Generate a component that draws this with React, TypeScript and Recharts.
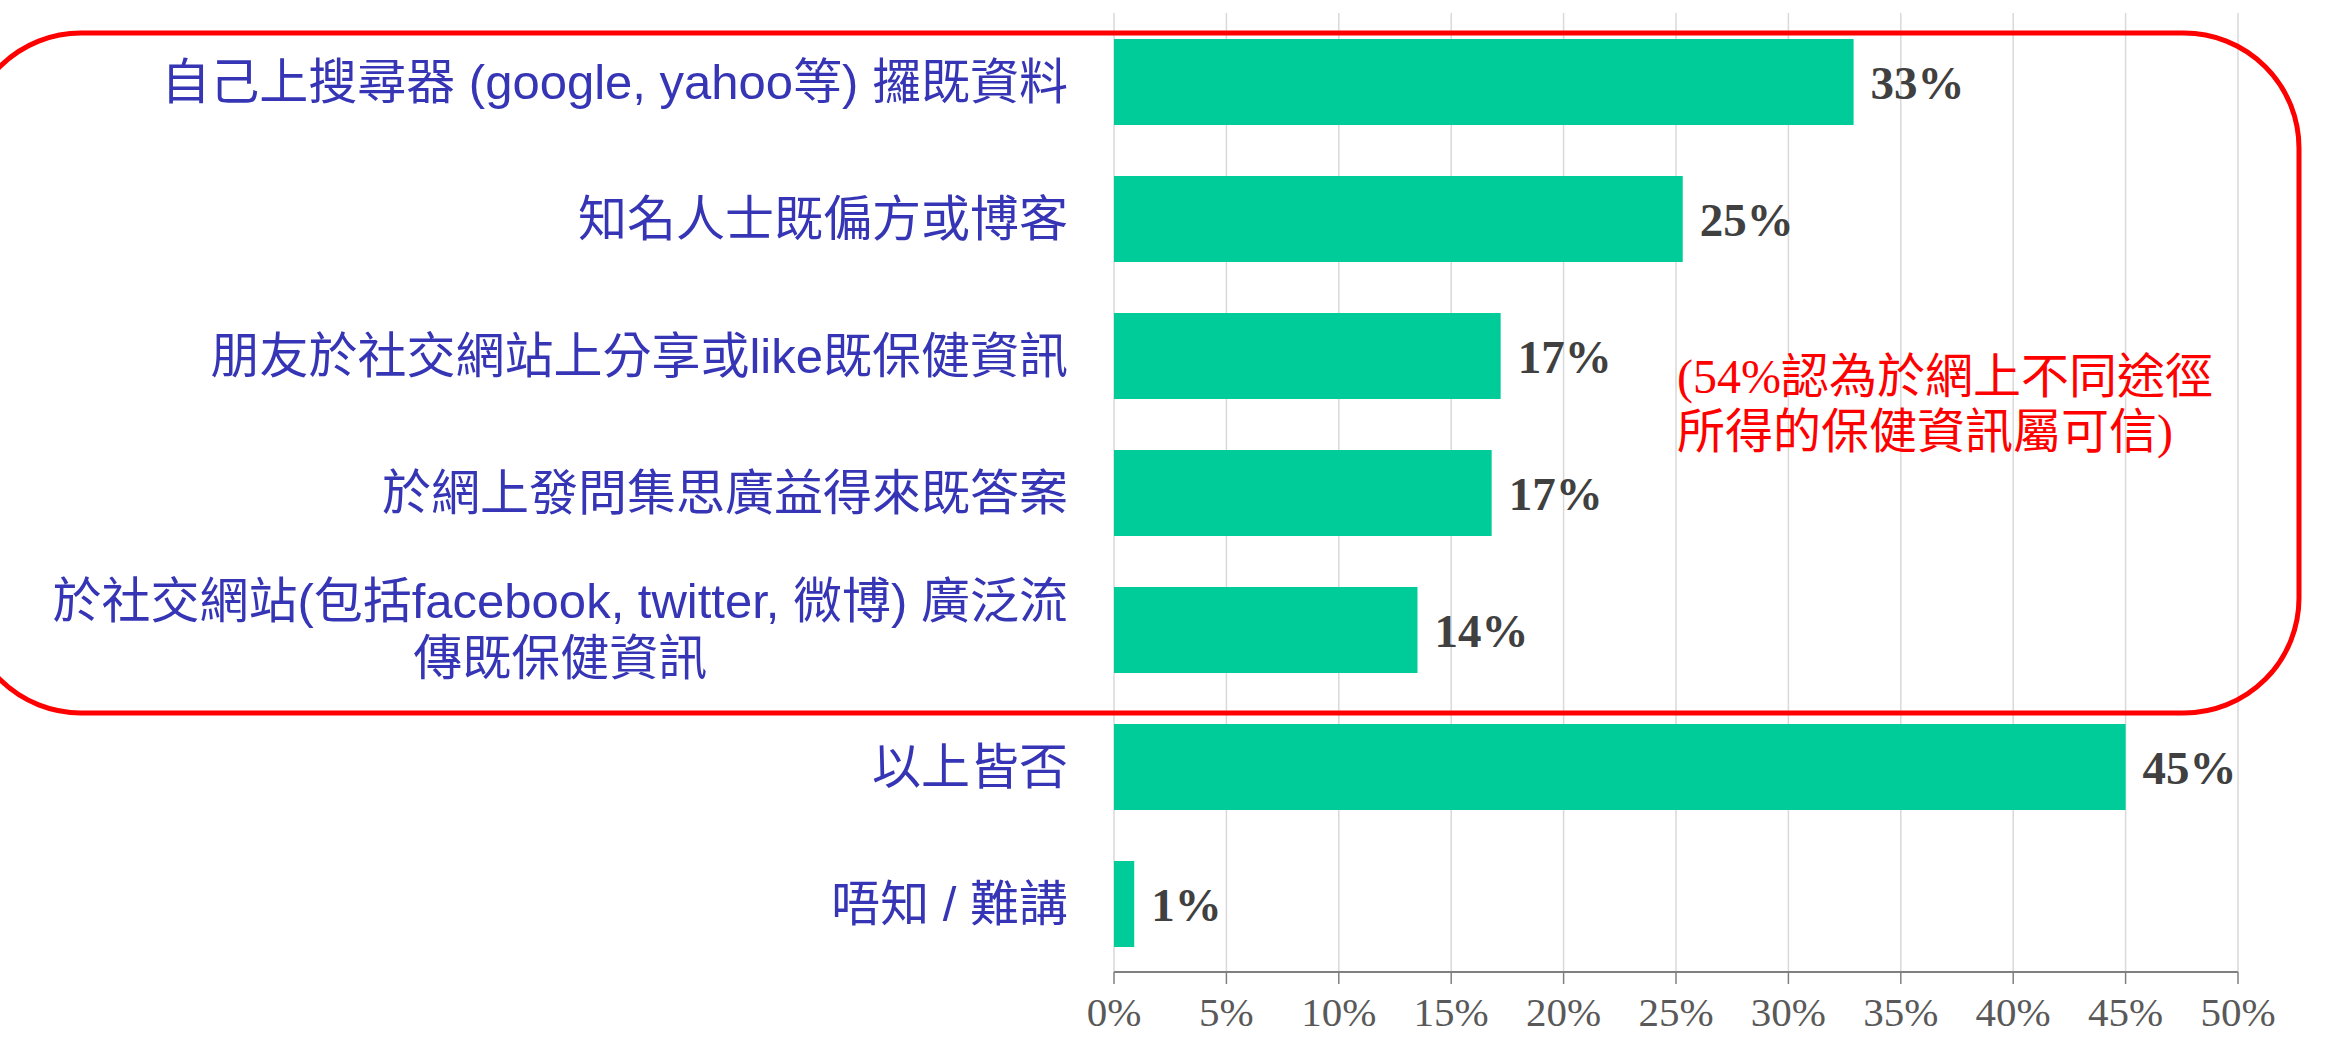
import React from 'react';
import {
  BarChart,
  Bar,
  XAxis,
  YAxis,
  CartesianGrid,
  LabelList
} from 'recharts';

const categories = [
  '自己上搜尋器 (google, yahoo等) 攞既資料',
  '知名人士既偏方或博客',
  '朋友於社交網站上分享或like既保健資訊',
  '於網上發問集思廣益得來既答案',
  '於社交網站(包括facebook, twitter, 微博) 廣泛流\n傳既保健資訊',
  '以上皆否',
  '唔知 / 難講'
];
const shares = [32.9, 25.3, 17.2, 16.8, 13.5, 45.0, 0.9];
const xTicks = [0, 5, 10, 15, 20, 25, 30, 35, 40, 45, 50];
const noteLines = ['(54%認為於網上不同途徑', '所得的保健資訊屬可信)'];

const data = categories.map((name, i) => ({ name, value: shares[i] }));

const W = 2331;
const H = 1037;
const LABEL_FONT = '"Liberation Sans", "Noto Sans CJK TC", sans-serif';
const SERIF = '"Liberation Serif", "Noto Sans CJK TC", serif';
const LABEL_SIZE = 49;

let ctx: CanvasRenderingContext2D | null = null;
const measure = (s: string) => {
  if (!ctx) ctx = document.createElement('canvas').getContext('2d');
  if (!ctx) return s.length * LABEL_SIZE * 0.7;
  ctx.font = `${LABEL_SIZE}px ${LABEL_FONT}`;
  return ctx.measureText(s).width;
};

// category labels: right aligned, multi-line ones centred as a block
const CategoryTick = (props: any) => {
  const { x, y, payload } = props;
  const lines = String(payload.value).split('\n');
  const right = x - 40;
  const lh = 57;
  if (lines.length === 1) {
    return (
      <text x={right} y={y} textAnchor="end" dominantBaseline="central"
        fill="#3535b5" fontSize={LABEL_SIZE} fontFamily={LABEL_FONT}>
        {lines[0]}
      </text>
    );
  }
  const w = Math.max(...lines.map(measure));
  const cx = right - w / 2;
  const y0 = y - ((lines.length - 1) * lh) / 2;
  return (
    <text textAnchor="middle" dominantBaseline="central"
      fill="#3535b5" fontSize={LABEL_SIZE} fontFamily={LABEL_FONT}>
      {lines.map((l, i) => (
        <tspan key={i} x={cx} y={y0 + i * lh}>{l}</tspan>
      ))}
    </text>
  );
};

export default function App() {
  return (
    <div style={{ position: 'absolute', left: 0, top: 0, width: W, height: H, overflow: 'hidden', background: '#fff' }}>
      <BarChart
        width={W}
        height={H}
        data={data}
        layout="vertical"
        margin={{ top: 13, right: 93, left: 0, bottom: 0 }}
        barSize={86}
      >
        <CartesianGrid horizontal={false} stroke="#d9d9d9" strokeWidth={1.5} />
        <XAxis
          type="number"
          domain={[0, 50]}
          ticks={xTicks}
          interval={0}
          height={65}
          tickFormatter={(v) => `${v}%`}
          tickSize={12}
          tickMargin={13}
          axisLine={{ stroke: '#808080', strokeWidth: 2 }}
          tickLine={{ stroke: '#808080', strokeWidth: 1.5 }}
          tick={{ fill: '#595959', fontSize: 41, fontFamily: SERIF }}
        />
        <YAxis
          type="category"
          dataKey="name"
          width={1114}
          axisLine={false}
          tickLine={false}
          tickMargin={0}
          interval={0}
          tick={<CategoryTick />}
        />
        <Bar dataKey="value" fill="#00cc99" isAnimationActive={false}>
          <LabelList
            dataKey="value"
            position="right"
            offset={17}
            formatter={(v: any) => `${Math.round(Number(v))}%`}
            fill="#404040"
            fontSize={47}
            fontWeight="bold"
            fontFamily={SERIF}
          />
        </Bar>
      </BarChart>
      <svg width={W} height={H} style={{ position: 'absolute', left: 0, top: 0, pointerEvents: 'none' }}>
        <rect x={-34} y={33} width={2333} height={680} rx={115} ry={115}
          fill="none" stroke="#ff0000" strokeWidth={5} />
        {noteLines.map((l, i) => (
          <text key={i} x={1677} y={376 + i * 55} dominantBaseline="central"
            fill="#ff0000" fontSize={48} fontFamily={SERIF}>
            {l}
          </text>
        ))}
      </svg>
    </div>
  );
}
